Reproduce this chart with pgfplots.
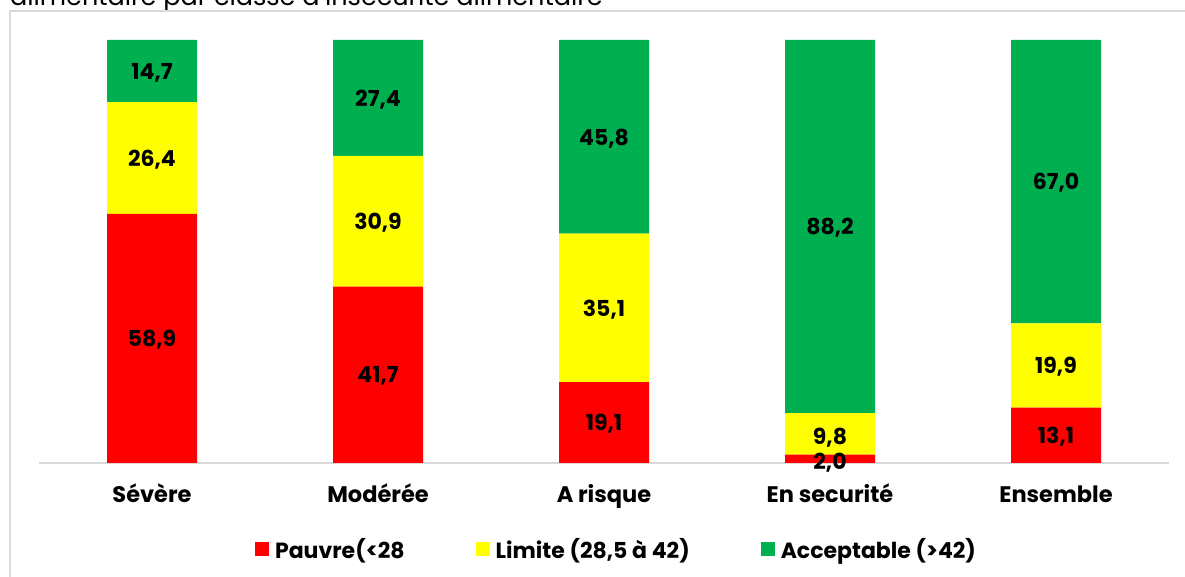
\documentclass[border=0pt]{standalone}
\usepackage{fontspec}
\setmainfont{Poppins}
\usepackage{pgfplots}
\pgfplotsset{compat=1.18}
\definecolor{cPauvre}{HTML}{FF0000}
\definecolor{cLimite}{HTML}{FFFF00}
\definecolor{cAccept}{HTML}{00B050}
\definecolor{cFrame}{HTML}{D9D9D9}
\begin{document}
\begin{tikzpicture}[x=1pt,y=1pt]
\useasboundingbox (0,0) rectangle (1185,577);
\clip (0,0) rectangle (1185,577);
\node[anchor=base west, inner sep=0, font=\fontsize{25.5}{30}\selectfont] at (10,571) {alimentaire par classe d'insécurité alimentaire};
\draw[cFrame, line width=1.5pt] (10,-5) -- (10,566) -- (1195,566);

\begin{axis}[
  at={(39pt,114pt)}, anchor=south west,
  scale only axis, width=1130pt, height=423pt,
  ybar stacked, bar width=90pt,
  xmin=-0.5, xmax=4.5, ymin=0, ymax=100,
  axis x line*=bottom, axis y line=none,
  axis line style={cFrame, line width=1.5pt},
  xtick={0,1,2,3,4},
  xticklabels={Sévère,Modérée,A risque,En securité,Ensemble},
  major tick length=0pt,
  xticklabel style={font=\fontsize{22.5}{26}\selectfont\bfseries, anchor=base, inner sep=0pt, yshift=-40pt},
  ytick=\empty,
  clip=false,
  legend columns=3,
  legend style={draw=none, fill=none, at={(0.1912,-0.204)}, anchor=west,
    inner sep=0pt, outer sep=0pt,
    font=\fontsize{22}{26}\selectfont\bfseries,
    nodes={inner sep=0pt},
    /tikz/every even column/.append style={column sep=71pt},
    /tikz/every odd column/.append style={column sep=6pt}},
  legend image code/.code={\fill[#1] (0pt,-7pt) rectangle (14pt,7pt);},
]
\addplot[fill=cPauvre, draw=none] coordinates {(0,58.9) (1,41.7) (2,19.1) (3,2.0) (4,13.1)};
\addlegendentry{Pauvre(<28}
\addplot[fill=cLimite, draw=none] coordinates {(0,26.4) (1,30.9) (2,35.1) (3,9.8) (4,19.9)};
\addlegendentry{Limite (28,5 à 42)}
\addplot[fill=cAccept, draw=none] coordinates {(0,14.7) (1,27.4) (2,45.8) (3,88.2) (4,67.0)};
\addlegendentry{Acceptable (>42)}
\end{axis}

\begin{axis}[
  at={(39pt,114pt)}, anchor=south west,
  scale only axis, width=1130pt, height=423pt,
  xmin=-0.5, xmax=4.5, ymin=0, ymax=100,
  hide axis, clip=false,
  point meta=explicit,
  nodes near coords={\pgfmathprintnumber[fixed, fixed zerofill, precision=1, use comma, assume math mode=true]{\pgfplotspointmeta}},
  every node near coord/.append style={anchor=center, text depth=0pt, inner sep=0pt, font=\fontsize{22}{26}\selectfont\bfseries, text=black},
]
\addplot[draw=none] coordinates {
  (0,29.45) [58.9] (0,72.1) [26.4] (0,92.65) [14.7]
  (1,20.85) [41.7] (1,57.15) [30.9] (1,86.3) [27.4]
  (2,9.55) [19.1] (2,36.65) [35.1] (2,77.1) [45.8]
  (3,0.5) [2.0] (3,6.2) [9.8] (3,55.9) [88.2]
  (4,6.55) [13.1] (4,23.05) [19.9] (4,66.5) [67.0]
};
\end{axis}
\end{tikzpicture}
\end{document}
